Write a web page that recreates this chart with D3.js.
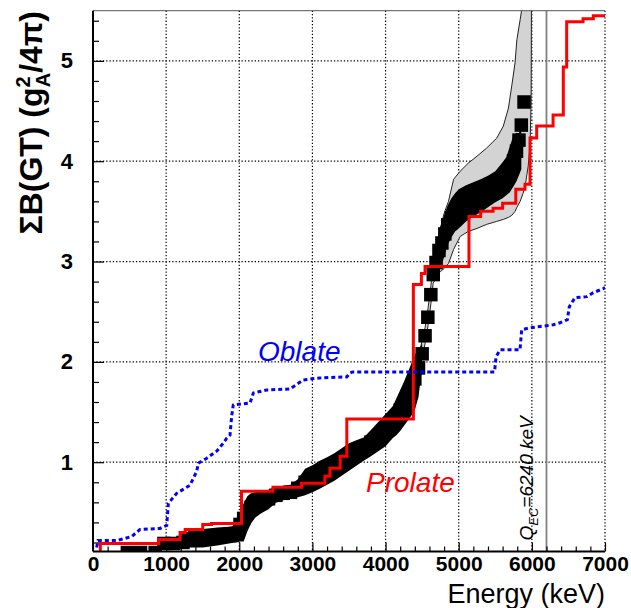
<!DOCTYPE html>
<html>
<head>
<meta charset="utf-8">
<script src="https://cdn.jsdelivr.net/npm/d3@7"></script>
<style>
  body { margin: 0; background: #fff; }
  svg { display: block; font-family: "Liberation Sans", Arial, Helvetica, sans-serif; }
</style>
</head>
<body>
<svg id="chart" width="631" height="608"></svg>
<script>
// cumulative B(GT) from the measurement (square markers), keV / g_A^2/4pi
const sumE = [470, 650, 850, 970, 1100, 1230, 1300, 1500, 1700, 1900, 1960, 2010, 2060, 2110, 2160, 2220,
  2300, 2400, 2500, 2600, 2700, 2800, 2900, 3000, 3100, 3200, 3300, 3400, 3500, 3600, 3700, 3800, 3900,
  4000, 4100, 4150, 4200, 4250, 4300, 4350, 4400, 4450, 4500, 4540, 4578, 4619, 4652, 4690, 4730, 4770,
  4810, 4850, 4900, 4950, 5000, 5100, 5200, 5300, 5400, 5500, 5600, 5650, 5700, 5750, 5790, 5824, 5856, 5893];
const sumB = [0.10, 0.10, 0.10, 0.19, 0.19, 0.20, 0.24, 0.25, 0.265, 0.28, 0.29, 0.38, 0.44, 0.51, 0.55, 0.59,
  0.62, 0.635, 0.67, 0.69, 0.70, 0.74, 0.80, 0.85, 0.875, 0.92, 0.955, 1.00, 1.05, 1.11, 1.14, 1.20, 1.26,
  1.32, 1.40, 1.45, 1.52, 1.58, 1.65, 1.74, 1.83, 1.94, 2.08, 2.26, 2.445, 2.67, 2.87, 2.99, 3.11, 3.185,
  3.275, 3.365, 3.435, 3.49, 3.525, 3.58, 3.62, 3.655, 3.70, 3.745, 3.81, 3.85, 3.92, 4.005, 4.10, 4.21, 4.36, 4.59];
// extent of the dense black band (null = markers only)
const sumLo = [null, null, null, null, null, null, 0.15, 0.15, 0.17, 0.195, 0.20, 0.21, 0.21, 0.31, 0.39, 0.45,
  0.49, 0.53, 0.595, 0.62, 0.635, 0.65, 0.67, 0.70, 0.735, 0.775, 0.815, 0.865, 0.915, 0.965, 1.014, 1.06, 1.11,
  1.16, 1.24, 1.27, 1.31, 1.36, 1.41, 1.46, 1.52, 1.65, 1.95, null, null, null, null, 2.88, 2.92, 2.97,
  3.07, 3.17, 3.24, 3.30, 3.33, 3.40, 3.45, 3.49, 3.54, 3.59, 3.63, 3.66, 3.69, 3.75, 3.80, 3.86, 3.92, null];
const sumHi = [null, null, null, null, null, null, 0.33, 0.335, 0.35, 0.36, 0.40, 0.45, 0.59, 0.66, 0.69, 0.70,
  0.71, 0.725, 0.755, 0.765, 0.775, 0.83, 0.934, 0.97, 1.014, 1.05, 1.09, 1.14, 1.19, 1.22, 1.245, 1.32, 1.40,
  1.48, 1.56, 1.64, 1.72, 1.80, 1.89, 1.98, 2.07, 2.12, 2.18, null, null, null, null, 3.10, 3.30, 3.40,
  3.48, 3.56, 3.63, 3.68, 3.72, 3.76, 3.79, 3.82, 3.855, 3.90, 3.99, 4.04, 4.15, 4.26, 4.28, 4.28, 4.36, null];

// grey error band
const errE = [4450, 4540, 4580, 4620, 4650, 4700, 4750, 4800, 4860, 4930, 5020, 5130, 5250, 5380, 5520,
  5610, 5680, 5725, 5770, 5795, 5840, 5880, 5910, 5950, 5975, 5990, 5995];
const errLo = [1.90, 2.18, 2.36, 2.58, 2.78, 2.86, 2.90, 2.93, 2.98, 3.12, 3.25, 3.30, 3.33, 3.37, 3.40,
  3.42, 3.44, 3.46, 3.50, 3.54, 3.60, 3.68, 3.76, 3.95, 4.15, 4.60, 5.60];
const errHi = [2.05, 2.34, 2.53, 2.76, 2.96, 3.15, 3.33, 3.48, 3.60, 3.82, 3.90, 3.98, 4.05, 4.13, 4.23,
  4.35, 4.53, 4.75, 4.98, 5.21, 5.41, 5.60, 5.60, 5.60, 5.60, 5.60, 5.60];

// calculations
const prolateE = [90, 100, 900, 1190, 1260, 1500, 1620, 2030, 2460, 2850, 3170, 3240, 3380, 3470, 4380,
  4490, 4540, 5140, 5300, 5470, 5600, 5780, 5906, 5975, 6066, 6290, 6430, 6476, 6700, 6840, 7000];
const prolateB = [0.0, 0.19, 0.23, 0.30, 0.33, 0.38, 0.39, 0.71, 0.75, 0.79, 0.86, 0.94, 1.06, 1.43, 2.77,
  2.88, 2.95, 3.45, 3.50, 3.53, 3.58, 3.72, 3.77, 4.23, 4.35, 4.46, 4.94, 5.39, 5.42, 5.45, 5.45];

const oblateE = [50, 68, 324, 437, 529, 643, 916, 1008, 1030, 1144, 1326, 1418, 1440, 1555, 1691, 1782, 1828,
  1873, 1896, 1918, 2147, 2192, 2375, 2693, 2875, 3104, 3469, 3514, 3555, 5490, 5510, 5565, 5838, 5861,
  5975, 6088, 6294, 6385, 6485, 6512, 6590, 6750, 6840, 6977, 7000];
const oblateB = [0.15, 0.22, 0.22, 0.24, 0.26, 0.33, 0.34, 0.37, 0.59, 0.69, 0.77, 0.91, 0.99, 1.04, 1.11, 1.19,
  1.24, 1.27, 1.46, 1.57, 1.59, 1.69, 1.72, 1.73, 1.82, 1.84, 1.85, 1.89, 1.90, 1.90, 2.05, 2.12, 2.12, 2.32,
  2.34, 2.35, 2.37, 2.39, 2.42, 2.55, 2.64, 2.65, 2.69, 2.73, 2.74];

const qLineE = 6200;
const xTicks = [0, 1000, 2000, 3000, 4000, 5000, 6000, 7000];
const yTicks = [1, 2, 3, 4, 5];

// set the dimensions and margins
const margin = { top: 10.7, right: 26, bottom: 56.5, left: 93 },
  width = 631 - margin.left - margin.right,
  height = 608 - margin.top - margin.bottom;

const x = d3.scaleLinear().domain([0, 7000]).range([0, width]);
const y = d3.scaleLinear().domain([0.11, 5.5]).range([height, 0]);

const svg = d3.select("#chart");
const g = svg.append("g").attr("transform", "translate(" + margin.left + "," + margin.top + ")");

g.append("clipPath").attr("id", "plot").append("rect").attr("width", width).attr("height", height);

// dotted grid
g.selectAll(".vgrid").data(xTicks.slice(1)).join("line")
  .attr("x1", d => x(d)).attr("x2", d => x(d)).attr("y1", 0).attr("y2", height)
  .attr("stroke", "#000").attr("stroke-width", 1.2).attr("stroke-dasharray", "1.3,2");
g.selectAll(".hgrid").data(yTicks).join("line")
  .attr("x1", 0).attr("x2", width).attr("y1", d => y(d)).attr("y2", d => y(d))
  .attr("stroke", "#000").attr("stroke-width", 1.2).attr("stroke-dasharray", "1.3,2");

const plot = g.append("g").attr("clip-path", "url(#plot)");

// grey error band
const errData = errE.map((e, i) => ({ e, lo: errLo[i], hi: errHi[i] }));
plot.append("path").datum(errData)
  .attr("d", d3.area().x(d => x(d.e)).y0(d => y(d.lo)).y1(d => y(d.hi)))
  .attr("fill", "#d3d3d3").attr("stroke", "#222").attr("stroke-width", 1);

// black band + square markers
const sumData = sumE.map((e, i) => ({ e, b: sumB[i], lo: sumLo[i], hi: sumHi[i] }));
plot.append("path").datum(sumData)
  .attr("d", d3.area().defined(d => d.lo != null).x(d => x(d.e)).y0(d => y(d.lo)).y1(d => y(d.hi)))
  .attr("fill", "#000");
const ms = 13.5;
plot.selectAll(".pt").data(sumData).join("rect")
  .attr("x", d => x(d.e) - ms / 2).attr("y", d => y(d.b) - ms / 2)
  .attr("width", ms).attr("height", ms).attr("fill", "#000");

// Q_EC line
plot.append("line")
  .attr("x1", x(qLineE)).attr("x2", x(qLineE)).attr("y1", 0).attr("y2", height)
  .attr("stroke", "#808080").attr("stroke-width", 1.8);

// prolate (red step)
plot.append("path").datum(prolateE.map((e, i) => [e, prolateB[i]]))
  .attr("d", d3.line().curve(d3.curveStepAfter).x(d => x(d[0])).y(d => y(d[1])))
  .attr("fill", "none").attr("stroke", "#ff0000").attr("stroke-width", 3);

// oblate (blue dotted)
plot.append("path").datum(oblateE.map((e, i) => [e, oblateB[i]]))
  .attr("d", d3.line().x(d => x(d[0])).y(d => y(d[1])))
  .attr("fill", "none").attr("stroke", "#0000ff").attr("stroke-width", 3)
  .attr("stroke-dasharray", "4,3");

// axes
const xMinor = d3.range(0, 7001, 200).filter(d => d % 1000 !== 0);
const yMinor = d3.range(2, 55, 2).map(d => d / 10).filter(d => d % 1 !== 0);

g.append("g").attr("transform", "translate(0," + height + ")")
  .call(d3.axisBottom(x).tickValues(xMinor).tickSize(-5).tickFormat(""));
g.append("g").attr("class", "xmaj").attr("transform", "translate(0," + height + ")")
  .call(d3.axisBottom(x).tickValues(xTicks).tickSize(-9).tickPadding(5).tickFormat(d3.format("d")));
g.append("g")
  .call(d3.axisLeft(y).tickValues(yMinor).tickSize(-6).tickFormat(""));
g.append("g").attr("class", "ymaj")
  .call(d3.axisLeft(y).tickValues(yTicks).tickSize(-11).tickPadding(20).tickFormat(d3.format("d")));

g.selectAll(".domain").remove();
g.selectAll(".tick line").attr("stroke", "#000").attr("stroke-width", 1.2);
g.selectAll(".xmaj text")
  .attr("fill", "#000").style("font-size", "21px").style("font-weight", "bold")
  .style("font-family", "'Liberation Sans', Arial, sans-serif");
g.selectAll(".ymaj text")
  .attr("fill", "#000").style("font-size", "22px").style("font-weight", "bold")
  .style("font-family", "'Liberation Sans', Arial, sans-serif");

// frame
g.append("line").attr("x1", 0).attr("x2", width).attr("y1", 0).attr("y2", 0)
  .attr("stroke", "#555").attr("stroke-width", 1);
g.append("line").attr("x1", 0).attr("x2", 0).attr("y1", 0).attr("y2", height)
  .attr("stroke", "#000").attr("stroke-width", 2);
g.append("line").attr("x1", 0).attr("x2", width).attr("y1", height).attr("y2", height)
  .attr("stroke", "#000").attr("stroke-width", 2);

// axis titles
svg.append("text")
  .attr("x", 605).attr("y", 603).attr("text-anchor", "end")
  .style("font-size", "27px").attr("fill", "#000")
  .text("Energy (keV)");

const yt = svg.append("text")
  .attr("transform", "translate(42,11) rotate(-90)")
  .attr("text-anchor", "end").style("font-size", "32px").style("font-weight", "bold")
  .attr("fill", "#000");
yt.append("tspan").text("\u03A3B(GT) (g");
yt.append("tspan").attr("dy", -12).style("font-size", "20px").text("2");
yt.append("tspan").attr("dx", -11).attr("dy", 20).style("font-size", "20px").text("A");
yt.append("tspan").attr("dy", -8).text("/4\u03C0)");

// labels
g.append("text")
  .attr("x", x(2256)).attr("y", y(2.01))
  .style("font-size", "28px").style("font-style", "italic").attr("fill", "#0000ff")
  .text("Oblate");
g.append("text")
  .attr("x", x(3733)).attr("y", y(0.705))
  .style("font-size", "28px").style("font-style", "italic").attr("fill", "#ff0000")
  .text("Prolate");

const ql = g.append("text")
  .attr("transform", "translate(" + (x(qLineE) - 13) + "," + (height - 11) + ") rotate(-90)")
  .style("font-size", "19px").style("font-style", "italic").attr("fill", "#000");
ql.append("tspan").text("Q");
ql.append("tspan").attr("dy", 5).style("font-size", "13px").text("EC");
ql.append("tspan").attr("dy", -5).text("=6240 keV");
</script>
</body>
</html>
